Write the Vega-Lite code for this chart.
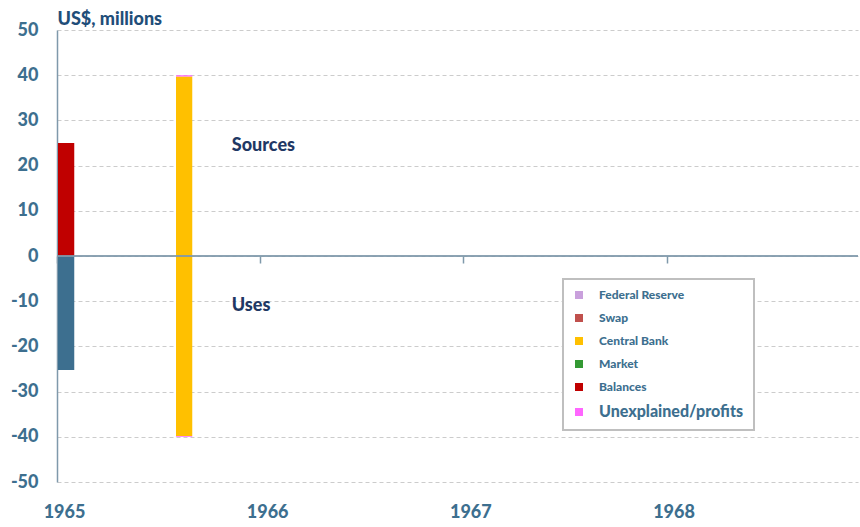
{
  "$schema": "https://vega.github.io/schema/vega-lite/v6.json",
  "width": 801,
  "height": 452,
  "autosize": {"type": "none"},
  "padding": {"left": 57, "top": 30, "right": 2, "bottom": 45},
  "background": "white",
  "config": {"view": {"stroke": null}, "font": "Lato"},
  "resolve": {"axis": {"x": "independent"}},
  "layer": [
    {
      "data": {"values": [
        {"date": "1965-01-01", "series": "Balances", "value": 25},
        {"date": "1965-01-01", "series": "Uses", "value": -25.2},
        {"date": "1965-08-01", "series": "Central Bank", "value": 39.7},
        {"date": "1965-08-01", "series": "Unexplained/profits", "value": 0.3},
        {"date": "1965-08-01", "series": "Central Bank", "value": -39.8},
        {"date": "1965-08-01", "series": "Unexplained/profits", "value": -0.2}
      ]},
      "mark": {"type": "bar"},
      "encoding": {
        "x": {
          "field": "date", "timeUnit": "utcyearmonth", "type": "temporal",
          "scale": {"type": "utc", "nice": false, "domain": [{"year": 1965, "month": 1, "date": 1, "utc": true}, {"year": 1968, "month": 12, "date": 10, "utc": true}]},
          "axis": {"orient": "bottom", "format": "%Y", "tickCount": {"interval": "year", "step": 1}, "labelFlush": false, "labelOverlap": false, "domain": false, "ticks": false, "grid": false, "labelPadding": 21, "labelOffset": 7, "labelFont": "Lato", "labelFontSize": 18, "labelFontWeight": 900, "labelColor": "#3d6f8f", "title": null}
        },
        "y": {
          "field": "value", "type": "quantitative", "stack": "zero",
          "scale": {"domain": [-50, 50], "nice": false},
          "axis": {"title": "US$, millions", "titleAngle": 0, "titleAlign": "left", "titleBaseline": "alphabetic", "titleX": 0, "titleY": -6, "titleFont": "Lato", "titleFontSize": 18, "titleFontWeight": 900, "titleColor": "#1f4e79",
            "values": [-50, -40, -30, -20, -10, 0, 10, 20, 30, 40, 50], "labelExpr": "datum.value + ''",
            "labelFont": "Lato", "labelFontSize": 18, "labelFontWeight": 900, "labelColor": "#3d6f8f", "labelPadding": 19,
            "ticks": false, "domainColor": "#7f99ab", "domainWidth": 1.5,
            "grid": true, "gridColor": "#cccccc", "gridDash": [4, 3], "gridWidth": 1}
        },
        "color": {
          "field": "series", "type": "nominal",
          "scale": {
            "domain": ["Federal Reserve", "Swap", "Central Bank", "Market", "Balances", "Unexplained/profits", "Uses"],
            "range": ["#c9a0dc", "#c0504d", "#ffc000", "#339933", "#c00000", "#ff66ff", "#3d6f8f"]
          },
          "legend": {
            "values": ["Federal Reserve", "Swap", "Central Bank", "Market", "Balances", "Unexplained/profits"],
            "orient": "none", "legendX": 506, "legendY": 249, "title": null,
            "symbolType": "square", "symbolSize": 64, "symbolStrokeWidth": 0, "symbolOpacity": 1,
            "labelFont": "Lato", "labelFontSize": 11, "labelFontWeight": 900, "labelColor": "#3d6f8f",
            "strokeColor": "#bfbfbf", "fillColor": "white", "padding": 10, "rowPadding": 11, "labelOffset": 14, "labelLimit": 300,
            "encode": {
              "labels": {"update": {"fontSize": {"signal": "datum.value === 'Unexplained/profits' ? 16 : 12"}}},
              "legend": {"update": {"strokeWidth": {"value": 2}}}
            }
          }
        },
        "order": {"field": "series", "sort": "ascending"}
      }
    },
    {
      "data": {"values": [{"zero": 0}]},
      "mark": {"type": "rule", "color": "#7f99ab", "strokeWidth": 2, "opacity": 0.9},
      "encoding": {"y": {"field": "zero", "type": "quantitative"}}
    },
    {
      "data": {"values": [
        {"date": "1965-11-11", "y": 24.3, "label": "Sources"},
        {"date": "1965-11-11", "y": -11, "label": "Uses"}
      ]},
      "mark": {"type": "text", "align": "left", "baseline": "middle", "font": "Lato", "fontSize": 18, "fontWeight": 900, "color": "#1f3864"},
      "encoding": {
        "x": {"field": "date", "type": "temporal", "scale": {"type": "utc"},
          "axis": {"orient": "bottom", "offset": -226, "labels": false, "domain": false, "ticks": true, "tickSize": 7, "tickColor": "#7f99ab", "tickWidth": 1.5, "grid": false, "title": null, "tickCount": {"interval": "year", "step": 1}}},
        "y": {"field": "y", "type": "quantitative"},
        "text": {"field": "label"}
      }
    }
  ]
}
